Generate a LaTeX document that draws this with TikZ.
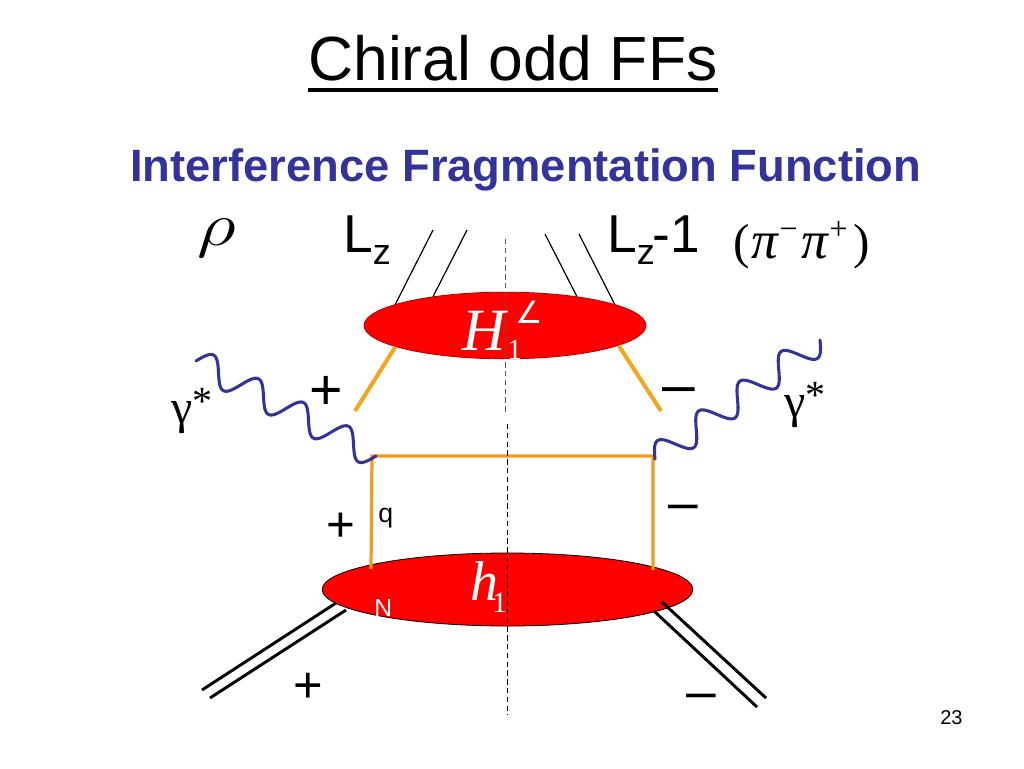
\documentclass[tikz,border=0pt]{standalone}
\usepackage{fontspec}
\setmainfont{Liberation Sans}
\newfontfamily\timesfont{Liberation Serif}
\newfontfamily\anglefont{DejaVu Sans}
\usetikzlibrary{shapes.geometric}
\definecolor{titleblue}{HTML}{333399}
\definecolor{wiggle}{HTML}{333399}
\definecolor{quark}{HTML}{F09C20}
\newcommand{\lowz}{\raisebox{-9pt}{\fontsize{27}{27}\selectfont z}}
\newcommand{\upsign}[1]{\raisebox{14pt}{\fontsize{24}{24}\selectfont #1}}
\newcommand{\virtual}{γ\raisebox{6.5pt}{\fontsize{30}{30}\selectfont *}}
\tikzset{
  label/.style={inner sep=0pt,anchor=base west},
  sign/.style={label,font=\fontsize{38}{38}\selectfont},
  blob/.style={ellipse,draw,fill=red,inner sep=0pt,line width=.6pt},
  quarkline/.style={quark,line width=2.4pt},
  fragline/.style={quark!90!yellow,line width=3pt},
  hadron/.style={line width=2.2pt},
  jet/.style={line width=.9pt},
  photon/.style={wiggle,line width=2.3pt,line join=round,line cap=round},
  cut/.style={line width=.7pt,dash pattern=on 4pt off 2.6pt}
}
\begin{document}
\begin{tikzpicture}[x=.75pt,y=-.75pt]
  \useasboundingbox (0,0) rectangle (1024,768);
  % title
  \node[label,inner ysep=7pt,font=\fontsize{46.8}{50}\selectfont] (title) at (308,80) {Chiral odd FFs};
  \draw[line width=3pt] (title.south west) -- (title.south east);
  \node[label,text=titleblue,font=\fontsize{34}{40}\selectfont\bfseries] (subtitle) at (130,181) {Interference Fragmentation Function};
  % blobs
  \node[blob,draw=red!70!black,minimum width=211.5pt,minimum height=50pt] (Hblob) at (505,325.5) {};
  \node[blob,draw=black,minimum width=278pt,minimum height=54.75pt] (hblob) at (507.5,589.5) {};
  % outgoing jets
  \coordinate (jetA) at (433,230);
  \coordinate (jetB) at (467,230);
  \coordinate (jetC) at (545,234);
  \coordinate (jetD) at (579,234);
  \draw[jet] (jetA) -- (Hblob.169);
  \draw[jet] (jetB) -- (Hblob.158);
  \draw[jet] (jetC) -- (Hblob.22);
  \draw[jet] (jetD) -- (Hblob.11);
  \coordinate (fragL) at (355,411);
  \coordinate (fragR) at (661,411);
  \draw[fragline] (Hblob.191) -- (fragL);
  \draw[fragline] (Hblob.-10) -- (fragR);
  % quark box
  \coordinate (boxTL) at (372,456);
  \coordinate (boxTR) at (653,456);
  \coordinate (boxBL) at (371,569);
  \coordinate (boxBR) at (653,570);
  \draw[quarkline] (boxBL) -- (boxTL) -- (boxTR) -- (boxBR);
  % nucleon legs
  \coordinate (legA) at (202,690);
  \coordinate (legB) at (336,603);
  \coordinate (legC) at (210,698);
  \coordinate (legD) at (346,610);
  \coordinate (legE) at (662,602);
  \coordinate (legF) at (766,698);
  \coordinate (legG) at (654,611);
  \coordinate (legH) at (757,707);
  \draw[hadron] (legA) -- (legB);
  \draw[hadron] (legC) -- (legD);
  \draw[hadron] (legE) -- (legF);
  \draw[hadron] (legG) -- (legH);
  % photons
  \coordinate (photonL) at (196,361);
  \coordinate (vertexL) at (376,456);
  \coordinate (photonR) at (820,340);
  \coordinate (vertexR) at (655,459);
  \draw[photon] (photonL) -- plot[domain=0:1,samples=121] ({196+180*\x+6.3*sin(1440*\x)},{361+95*\x-11.9*sin(1440*\x)}) -- (vertexL);
  \draw[photon] (vertexR) -- plot[domain=0:1,samples=121] ({655+165*\x-7.9*sin(1440*\x)},{459-119*\x-10.9*sin(1440*\x)}) -- (photonR);
  % cut lines
  \coordinate (cutA) at (505,239);
  \coordinate (cutB) at (505,412);
  \coordinate (cutC) at (507.5,424);
  \coordinate (cutD) at (507.5,715);
  \draw[cut,black!65] (cutA) -- (cutB);
  \draw[cut] (cutC) -- (cutD);
  % labels
  \node[label,xscale=2.3,yscale=1.85,font=\Huge] (rho) at (197,245) {$\rho$};
  \node[label,font=\fontsize{40}{40}\selectfont] (Lin) at (343,252) {L\lowz};
  \node[label,font=\fontsize{40}{40}\selectfont] (Lout) at (607,252) {L\lowz\kern-1.5pt-1};
  \node[label,font=\fontsize{37}{37}\selectfont\timesfont] (pions) at (733,258) {(\kern1.5pt{\fontsize{40}{40}\selectfont\textit{π}}\upsign{−}\kern3pt{\fontsize{40}{40}\selectfont\textit{π}}\upsign{+}\kern4pt)};
  \node[label,text=white,font=\fontsize{45}{45}\selectfont\timesfont\itshape] (Hname) at (462,350) {H};
  \node[label,text=white,font=\fontsize{22}{22}\selectfont\timesfont] (Hsub) at (507,359) {1};
  \node[label,text=white,font=\fontsize{23}{23}\selectfont\anglefont] (Hsup) at (515,323) {∠};
  \node[label,text=white,font=\fontsize{42}{42}\selectfont\timesfont] (hname) at (470,600) {\textit{h}\kern-4.5pt\raisebox{-9.5pt}{\fontsize{22}{22}\selectfont 1}};
  \node[label,font=\fontsize{20}{20}\selectfont] (qlabel) at (378,522) {q};
  \node[label,text=white,font=\fontsize{18.5}{18.5}\selectfont] (Nlabel) at (374,616) {N};
  \node[label,font=\fontsize{36}{36}\selectfont\timesfont] (gammaL) at (171,423) {\virtual};
  \node[label,font=\fontsize{36}{36}\selectfont\timesfont] (gammaR) at (784,417) {\virtual};
  \node[sign,font=\fontsize{43}{43}\selectfont] (plusA) at (309,409) {+};
  \node[sign,font=\fontsize{37}{37}\selectfont] (plusB) at (326,541) {+};
  \node[sign] (plusC) at (293,702) {+};
  \node[sign,font=\fontsize{44}{44}\selectfont] (minusA) at (662,404) {–};
  \node[sign,font=\fontsize{40}{40}\selectfont] (minusB) at (668,520) {–};
  \node[sign,font=\fontsize{40}{40}\selectfont] (minusC) at (686,709) {–};
  \node[label,font=\fontsize{15}{15}\selectfont] (pagenum) at (940,724) {23};
\end{tikzpicture}
\end{document}
